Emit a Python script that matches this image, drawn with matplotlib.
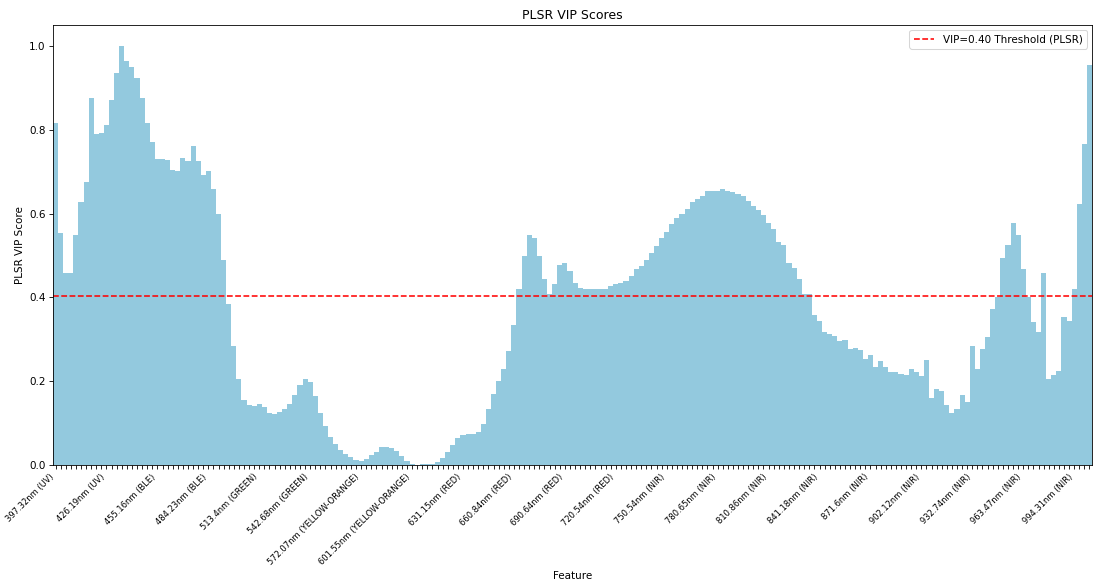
import numpy as np
import matplotlib
matplotlib.use("Agg")
import matplotlib.pyplot as plt

# VIP score per spectral band (204 bands)
vip_scores = [
    0.816, 0.553, 0.459, 0.459, 0.550, 0.627, 0.675, 0.876, 0.789, 0.792,
    0.811, 0.871, 0.935, 1.000, 0.964, 0.950, 0.923, 0.876, 0.816, 0.770,
    0.730, 0.730, 0.727, 0.703, 0.701, 0.732, 0.725, 0.761, 0.725, 0.691,
    0.701, 0.658, 0.598, 0.490, 0.385, 0.285, 0.206, 0.156, 0.144, 0.141,
    0.146, 0.139, 0.124, 0.122, 0.127, 0.134, 0.146, 0.167, 0.191, 0.206,
    0.199, 0.165, 0.124, 0.093, 0.067, 0.050, 0.036, 0.026, 0.019, 0.012,
    0.010, 0.014, 0.024, 0.031, 0.043, 0.043, 0.041, 0.033, 0.022, 0.010,
    0.002, 0.001, 0.002, 0.002, 0.002, 0.007, 0.017, 0.031, 0.048, 0.065,
    0.072, 0.074, 0.074, 0.079, 0.098, 0.134, 0.170, 0.201, 0.230, 0.273,
    0.335, 0.419, 0.498, 0.550, 0.541, 0.498, 0.445, 0.407, 0.431, 0.478,
    0.481, 0.464, 0.435, 0.423, 0.419, 0.419, 0.421, 0.421, 0.421, 0.426,
    0.431, 0.435, 0.440, 0.452, 0.467, 0.476, 0.490, 0.505, 0.522, 0.541,
    0.557, 0.574, 0.589, 0.598, 0.612, 0.627, 0.634, 0.641, 0.655, 0.653,
    0.655, 0.658, 0.653, 0.651, 0.646, 0.641, 0.629, 0.617, 0.608, 0.596,
    0.577, 0.562, 0.533, 0.524, 0.483, 0.469, 0.443, 0.407, 0.409, 0.359,
    0.344, 0.318, 0.313, 0.309, 0.297, 0.299, 0.278, 0.280, 0.275, 0.254,
    0.263, 0.234, 0.249, 0.234, 0.222, 0.222, 0.218, 0.215, 0.230, 0.222,
    0.213, 0.251, 0.160, 0.182, 0.177, 0.144, 0.124, 0.134, 0.167, 0.151,
    0.285, 0.230, 0.278, 0.306, 0.373, 0.402, 0.495, 0.526, 0.577, 0.548,
    0.467, 0.400, 0.342, 0.318, 0.459, 0.206, 0.215, 0.225, 0.354, 0.344,
    0.419, 0.622, 0.766, 0.955,
]

# labels shown on every 10th band
tick_labels = [
    "397.32nm (UV)", "426.19nm (UV)", "455.16nm (BLE)", "484.23nm (BLE)",
    "513.4nm (GREEN)", "542.68nm (GREEN)", "572.07nm (YELLOW-ORANGE)",
    "601.55nm (YELLOW-ORANGE)", "631.15nm (RED)", "660.84nm (RED)",
    "690.64nm (RED)", "720.54nm (RED)", "750.54nm (NIR)", "780.65nm (NIR)",
    "810.86nm (NIR)", "841.18nm (NIR)", "871.6nm (NIR)", "902.12nm (NIR)",
    "932.74nm (NIR)", "963.47nm (NIR)", "994.31nm (NIR)",
]
label_step = 10
threshold = 0.404

x = np.arange(len(vip_scores))

fig = plt.figure(figsize=(1094 / 75, 584 / 75), dpi=75)
ax = fig.add_axes([53 / 1094, 1 - 465 / 584, 1039 / 1094, 440 / 584])

ax.bar(x, vip_scores, width=1.0, color="#93C9DE", linewidth=0)
ax.axhline(threshold, color="red", linestyle="--",
           label=f"VIP={threshold:.2f} Threshold (PLSR)")

labels = [""] * len(x)
for i, lab in enumerate(tick_labels):
    labels[i * label_step] = lab
ax.set_xticks(x)
ax.set_xticklabels(labels, rotation=45, ha="right", fontsize=8)
ax.set_xlim(-0.5, len(x) - 0.5)

ax.set_title("PLSR VIP Scores")
ax.set_xlabel("Feature")
ax.set_ylabel("PLSR VIP Score")
ax.legend(loc="upper right")

fig.savefig("out.png", dpi=75)
